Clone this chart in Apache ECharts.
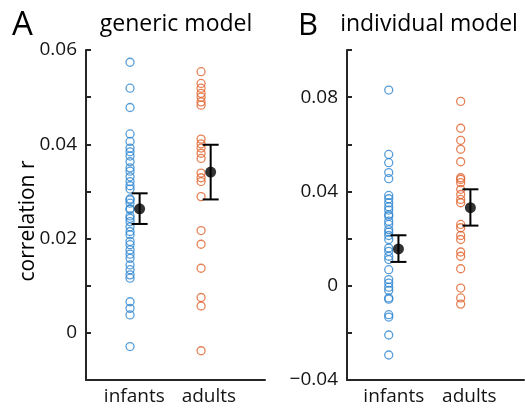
<!DOCTYPE html>
<html>
<head>
<meta charset="utf-8">
<script src="https://cdn.jsdelivr.net/npm/echarts@6/dist/echarts.min.js"></script>
<style>
html,body{margin:0;padding:0;background:#fff;}
#c{width:525px;height:409px;}
</style>
</head>
<body>
<div id="c"></div>
<script>
// ---- data ----
var groups = ['infants', 'adults'];
var genericInfants = [0.0574, 0.0519, 0.0478, 0.0422, 0.0406, 0.0392, 0.0384, 0.0375, 0.0363, 0.0350, 0.0343, 0.0331, 0.0321, 0.0312, 0.0305, 0.0284, 0.0282, 0.0275, 0.0263, 0.0248, 0.0262, 0.0243, 0.0236, 0.0225, 0.0215, 0.0208, 0.0194, 0.0187, 0.0176, 0.0167, 0.0158, 0.0144, 0.0134, 0.0123, 0.0116, 0.0066, 0.0052, 0.0038, -0.0029];
var genericAdults = [0.0554, 0.0529, 0.0519, 0.0508, 0.0500, 0.0490, 0.0483, 0.0411, 0.0401, 0.0392, 0.0381, 0.0370, 0.0339, 0.0329, 0.0321, 0.0289, 0.0217, 0.0188, 0.0137, 0.0075, 0.0057, -0.0038];
var individualInfants = [0.0830, 0.0557, 0.0522, 0.0480, 0.0454, 0.0383, 0.0369, 0.0352, 0.0335, 0.0321, 0.0302, 0.0295, 0.0274, 0.0260, 0.0238, 0.0227, 0.0213, 0.0196, 0.0160, 0.0146, 0.0125, 0.0111, 0.0068, 0.0026, 0.0011, -0.0006, -0.0020, -0.0052, -0.0057, -0.0123, -0.0133, -0.0209, -0.0294];
var individualAdults = [0.0782, 0.0668, 0.0617, 0.0579, 0.0526, 0.0458, 0.0451, 0.0437, 0.0409, 0.0387, 0.0366, 0.0352, 0.0260, 0.0246, 0.0213, 0.0196, 0.0143, 0.0125, 0.0072, -0.0010, -0.0052, -0.0078];
// mean and error-bar limits [infants, adults]
var genericMean = [0.0263, 0.0341];
var genericLow = [0.0231, 0.0283];
var genericHigh = [0.0296, 0.0399];
var individualMean = [0.0156, 0.0331];
var individualLow = [0.0101, 0.0255];
var individualHigh = [0.0214, 0.0409];
var genericTicks = [0, 0.02, 0.04, 0.06];
var individualTicks = [-0.04, 0, 0.04, 0.08];

// ---- styling ----
var FONT = 'Open Sans';
var AX = '#262626';
var TXT = '#141414';
var BLUE = '#2c85d0';
var ORANGE = '#e0622c';
var MEAN_OFFSET = 0.135;

function pts(arr, x) { return arr.map(function (v) { return [x, v]; }); }
function fmtNum(v) {
  if (Math.abs(v) < 1e-9) return '0';
  var s = Math.abs(v).toFixed(2);
  return (v < 0 ? '\u2212' : '') + s;
}
function yLabelFormatter(ticks) {
  return function (v) {
    for (var i = 0; i < ticks.length; i++) {
      if (Math.abs(ticks[i] - v) < 1e-9) return fmtNum(v);
    }
    return '';
  };
}

function xAxisFor(gi, min, max, labelPos) {
  return {
    gridIndex: gi, type: 'value', min: min, max: max,
    axisLine: { show: true, onZero: false, lineStyle: { color: AX, width: 2 } },
    axisTick: { show: false },
    splitLine: { show: false },
    axisLabel: {
      customValues: labelPos,
      formatter: function (v) { return v < 1.5 ? groups[0] : groups[1]; },
      color: TXT, fontFamily: FONT, fontSize: 19, margin: 7
    }
  };
}
function yAxisFor(gi, min, max, interval, ticks) {
  return {
    gridIndex: gi, type: 'value', min: min, max: max, interval: interval,
    axisLine: { show: true, onZero: false, lineStyle: { color: AX, width: 2 } },
    axisTick: { show: true, inside: true, length: 5, lineStyle: { color: AX, width: 2 } },
    splitLine: { show: false },
    axisLabel: {
      formatter: yLabelFormatter(ticks),
      color: TXT, fontFamily: FONT, fontSize: 19, margin: 9, showMinLabel: true, showMaxLabel: true
    }
  };
}

function scatterSeries(gi, data, color) {
  return {
    type: 'scatter', xAxisIndex: gi, yAxisIndex: gi, data: data,
    symbol: 'circle', symbolSize: 8,
    itemStyle: { color: 'rgba(255,255,255,0)', borderColor: color, borderWidth: 1.3 },
    silent: true, z: 2
  };
}
function errSeries(gi, mean, low, high) {
  var d = mean.map(function (m, i) { return [i + 1 + MEAN_OFFSET, low[i], high[i]]; });
  return {
    type: 'custom', xAxisIndex: gi, yAxisIndex: gi, data: d, z: 5, silent: true,
    renderItem: function (params, api) {
      var x = api.value(0);
      var p1 = api.coord([x, api.value(1)]);
      var p2 = api.coord([x, api.value(2)]);
      var hw = 8;
      var st = { stroke: '#000', lineWidth: 2 };
      return {
        type: 'group', children: [
          { type: 'line', shape: { x1: p1[0], y1: p1[1], x2: p2[0], y2: p2[1] }, style: st },
          { type: 'line', shape: { x1: p1[0] - hw, y1: p1[1], x2: p1[0] + hw, y2: p1[1] }, style: st },
          { type: 'line', shape: { x1: p2[0] - hw, y1: p2[1], x2: p2[0] + hw, y2: p2[1] }, style: st }
        ]
      };
    }
  };
}
function meanSeries(gi, mean) {
  return {
    type: 'scatter', xAxisIndex: gi, yAxisIndex: gi, z: 6, silent: true,
    data: mean.map(function (m, i) { return [i + 1 + MEAN_OFFSET, m]; }),
    symbol: 'circle', symbolSize: 11, itemStyle: { color: '#000' }
  };
}

var chart = echarts.init(document.getElementById('c'), null, { renderer: 'canvas' });
chart.setOption({
  animation: false,
  backgroundColor: '#fff',
  grid: [
    { left: 86, right: 260, top: 50, bottom: 29, containLabel: false },
    { left: 347, right: 1, top: 50, bottom: 29, containLabel: false }
  ],
  xAxis: [
    xAxisFor(0, 0.38, 2.9, [1.06, 2.11]),
    xAxisFor(1, 0.42, 2.88, [1.07, 2.12])
  ],
  yAxis: [
    yAxisFor(0, -0.01, 0.06, 0.01, genericTicks),
    yAxisFor(1, -0.04, 0.1, 0.02, individualTicks)
  ],
  graphic: [
    { type: 'text', left: 12, top: 9, style: { text: 'A', font: '33px "' + FONT + '"', fill: '#000' } },
    { type: 'text', left: 298, top: 11, style: { text: 'B', font: '31px "' + FONT + '"', fill: '#000' } },
    { type: 'text', x: 176, y: 24, style: { text: 'generic model', font: '23px "' + FONT + '"', fill: '#000', textAlign: 'center', textVerticalAlign: 'middle' } },
    { type: 'text', x: 429, y: 24, style: { text: 'individual model', font: '23px "' + FONT + '"', fill: '#000', textAlign: 'center', textVerticalAlign: 'middle' } },
    { type: 'text', x: 28, y: 221, rotation: Math.PI / 2, style: { text: 'correlation r', font: '21px "' + FONT + '"', fill: '#000', textAlign: 'center', textVerticalAlign: 'middle' } }
  ],
  series: [
    scatterSeries(0, pts(genericInfants, 1), BLUE),
    scatterSeries(0, pts(genericAdults, 2), ORANGE),
    scatterSeries(1, pts(individualInfants, 1), BLUE),
    scatterSeries(1, pts(individualAdults, 2), ORANGE),
    errSeries(0, genericMean, genericLow, genericHigh),
    meanSeries(0, genericMean),
    errSeries(1, individualMean, individualLow, individualHigh),
    meanSeries(1, individualMean)
  ]
});
</script>
</body>
</html>
